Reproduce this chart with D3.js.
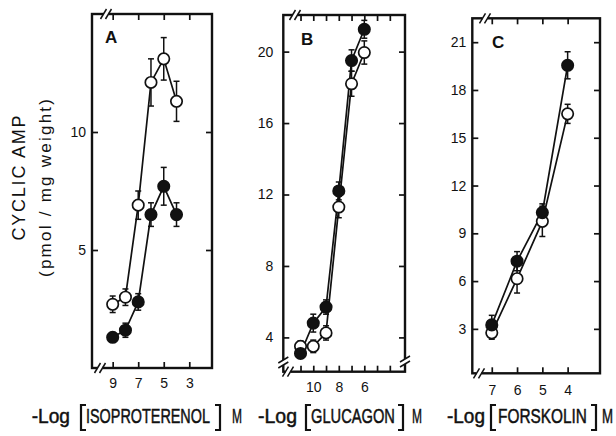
<!DOCTYPE html>
<html><head><meta charset="utf-8">
<script src="https://cdn.jsdelivr.net/npm/d3@7"></script>
<style>
body{margin:0;background:#fff}
svg{display:block}
text{font-family:"Liberation Sans",Arial,sans-serif;fill:#111}
</style>
</head><body>
<svg id="c" width="616" height="436"></svg>
<script>
// ---------- DATA ----------
const isoDose = [9, 8, 7, 6, 5, 4];
const isoOpen = [2.7, 3.0, 6.9, 12.1, 13.1, 11.3];
const isoOpenErr = [0.35, 0.35, 0.6, 1.0, 0.9, 0.85];
const isoFilled = [1.3, 1.6, 2.8, 6.5, 7.7, 6.5];
const isoFilledErr = [0.2, 0.3, 0.35, 0.5, 0.8, 0.5];

const gluDose = [11, 10, 9, 8, 7, 6];
const gluFilled = [3.1, 4.8, 5.7, 12.2, 19.5, 21.25];
const gluFilledErr = [0.2, 0.5, 0.4, 0.5, 0.6, 0.5];
const gluOpen = [3.5, 3.5, 4.25, 11.3, 18.2, 19.95];
const gluOpenErr = [0.3, 0.35, 0.4, 0.6, 0.7, 0.65];

const forDose = [7, 6, 5, 4];
const forFilled = [3.25, 7.25, 10.3, 19.55];
const forFilledErr = [0.6, 0.6, 0.55, 0.85];
const forOpen = [2.75, 6.15, 9.75, 16.5];
const forOpenErr = [0.4, 0.9, 0.95, 0.6];

const ticksA_x = [9, 7, 5, 3], labelsA_x = [9, 7, 5, 3], ticksA_y = [5, 10];
const ticksB_x = [11, 10, 9, 8, 7, 6, 5, 4], labelsB_x = [10, 8, 6], ticksB_y = [4, 8, 12, 16, 20];
const ticksC_x = [7, 6, 5, 4], labelsC_x = [7, 6, 5, 4], ticksC_y = [3, 6, 9, 12, 15, 18, 21];

const panelLetters = ["A", "B", "C"];
const yTitle1 = "CYCLIC AMP";
const yTitle2 = "(pmol / mg weight)";
const drugNames = ["ISOPROTERENOL", "GLUCAGON", "FORSKOLIN"];

// ---------- LAYOUT ----------
const svg = d3.select("#c");
const panels = [
  {letter: panelLetters[0], L: 92, R: 212, T: 14, B: 368, xd: [10.62, 1.22], yd: [0, 15],
   xt: ticksA_x, xl: labelsA_x, yt: ticksA_y, gap: 6, xlab: 14,
   x: isoDose, s: [[isoOpen, isoOpenErr, false], [isoFilled, isoFilledErr, true]],
   breaks: [["h", 106, "T"], ["h", 100, "B"]], lp: [105, 43]},
  {letter: panelLetters[1], L: 283.3, R: 405, T: 15, B: 371.7, xd: [12.35, 2.81], yd: [2.08, 22.05],
   xt: ticksB_x, xl: labelsB_x, yt: ticksB_y, gap: 10, xlab: 14,
   x: gluDose, s: [[gluOpen, gluOpenErr, false], [gluFilled, gluFilledErr, true]],
   breaks: [["h", 295, "T"], ["h", 288, "B"], ["v", 362.5, "L"], ["v", 361.5, "R"]], lp: [301, 45]},
  {letter: panelLetters[2], L: 472.3, R: 600, T: 18.3, B: 373.3, xd: [7.77, 2.72], yd: [0.21, 22.5],
   xt: ticksC_x, xl: labelsC_x, yt: ticksC_y, gap: 6, xlab: 16,
   x: forDose, s: [[forOpen, forOpenErr, false], [forFilled, forFilledErr, true]],
   breaks: [["h", 485, "T"], ["h", 479, "B"]], lp: [492, 48]}
];

panels.forEach(p => {
  const x = d3.scaleLinear().domain(p.xd).range([p.L, p.R]);
  const y = d3.scaleLinear().domain(p.yd).range([p.B, p.T]);
  const g = svg.append("g");

  const ax = (sel) => {
    sel.select(".domain").remove();
    sel.selectAll(".tick line").attr("stroke", "#111").attr("stroke-width", 1.7);
    sel.selectAll(".tick text").attr("fill", "#111").style("font-size", "14px")
      .style("font-family", '"Liberation Sans",Arial,sans-serif');
  };
  g.append("g").attr("transform", `translate(${p.L},0)`)
    .call(d3.axisLeft(y).tickValues(p.yt).tickSize(-6).tickPadding(p.gap).tickFormat(d3.format("d"))).call(ax);
  g.append("g").attr("transform", `translate(${p.R},0)`)
    .call(d3.axisRight(y).tickValues(p.yt).tickSize(-6).tickFormat("")).call(ax);
  g.append("g").attr("transform", `translate(0,${p.T})`)
    .call(d3.axisTop(x).tickValues(p.xt).tickSize(-6).tickFormat("")).call(ax);
  g.append("g").attr("transform", `translate(0,${p.B})`)
    .call(d3.axisBottom(x).tickValues(p.xt).tickSize(-6).tickPadding(p.xlab - 4)
      .tickFormat(d => p.xl.includes(d) ? d : "")).call(ax);

  g.append("rect").attr("x", p.L).attr("y", p.T).attr("width", p.R - p.L).attr("height", p.B - p.T)
    .attr("fill", "none").attr("stroke", "#111").attr("stroke-width", 2.4);

  p.breaks.forEach(([o, pos, side]) => {
    const bg = g.append("g");
    if (o === "h") {
      const yy = side === "T" ? p.T : p.B;
      bg.append("rect").attr("x", pos - 2.5).attr("y", yy - 3).attr("width", 5).attr("height", 6).attr("fill", "#fff");
      [-2.5, 2.5].forEach(d => bg.append("line").attr("x1", pos + d - 3).attr("y1", yy + 5)
        .attr("x2", pos + d + 3).attr("y2", yy - 5).attr("stroke", "#111").attr("stroke-width", 1.5));
    } else {
      const xx = side === "L" ? p.L : p.R;
      bg.append("rect").attr("x", xx - 3).attr("y", pos - 2.5).attr("width", 6).attr("height", 5).attr("fill", "#fff");
      [-2.5, 2.5].forEach(d => bg.append("line").attr("x1", xx - 5).attr("y1", pos + d + 3)
        .attr("x2", xx + 5).attr("y2", pos + d - 3).attr("stroke", "#111").attr("stroke-width", 1.5));
    }
  });

  g.append("text").attr("x", p.lp[0]).attr("y", p.lp[1]).text(p.letter)
    .style("font-size", "17px").style("font-weight", "bold");

  p.s.forEach(([vals, errs, filled]) => {
    const pts = p.x.map((d, i) => [x(d), y(vals[i])]);
    g.append("path").attr("d", d3.line()(pts)).attr("fill", "none").attr("stroke", "#111").attr("stroke-width", 1.7);
    p.x.forEach((d, i) => {
      const cx = x(d), y1 = y(vals[i] - errs[i]), y2 = y(vals[i] + errs[i]);
      g.append("line").attr("x1", cx).attr("x2", cx).attr("y1", y1).attr("y2", y2).attr("stroke", "#111").attr("stroke-width", 1.5);
      [y1, y2].forEach(yy => g.append("line").attr("x1", cx - 3).attr("x2", cx + 3).attr("y1", yy).attr("y2", yy)
        .attr("stroke", "#111").attr("stroke-width", 1.5));
    });
  });
  p.s.forEach(([vals, errs, filled]) => {
    p.x.forEach((d, i) => {
      g.append("circle").attr("cx", x(d)).attr("cy", y(vals[i])).attr("r", 5.7)
        .attr("fill", filled ? "#111" : "#fff").attr("stroke", "#111").attr("stroke-width", 1.7);
    });
  });
});

// y titles
svg.append("text").attr("transform", "translate(25,178) rotate(-90)").attr("text-anchor", "middle")
  .attr("textLength", 125).attr("lengthAdjust", "spacing")
  .style("font-size", "18px").text(yTitle1);
svg.append("text").attr("transform", "translate(51,188) rotate(-90)").attr("text-anchor", "middle")
  .attr("textLength", 178).attr("lengthAdjust", "spacing")
  .style("font-size", "17px").text(yTitle2);

// bottom labels
const labelSets = [
  {neg: [31.7, 70], lb: 81, w: [86, 210], rb: 220, m: [232, 242]},
  {neg: [258, 297], lb: 306, w: [311, 395], rb: 403, m: [412, 422]},
  {neg: [447, 485], lb: 491, w: [498, 587], rb: 596, m: [602, 613]}
];
const BL = 423;
labelSets.forEach((s, k) => {
  const t = (str, a, b) => {
    const el = svg.append("text").attr("x", 0).attr("y", 0).style("font-size", "21px")
      .attr("stroke", "#111").attr("stroke-width", 0.5).text(str);
    const len = el.node().getComputedTextLength();
    el.attr("transform", `translate(${a},${BL}) scale(${(b - a) / len},1)`);
  };
  t("-Log", s.neg[0], s.neg[1]);
  t(drugNames[k], s.w[0], s.w[1]);
  t("M", s.m[0], s.m[1]);
  svg.append("path").attr("d", `M${s.lb + 5},405 H${s.lb} V430 H${s.lb + 5}`).attr("fill", "none")
    .attr("stroke", "#111").attr("stroke-width", 2.2);
  svg.append("path").attr("d", `M${s.rb - 5},405 H${s.rb} V430 H${s.rb - 5}`).attr("fill", "none")
    .attr("stroke", "#111").attr("stroke-width", 2.2);
});
</script>
</body></html>
